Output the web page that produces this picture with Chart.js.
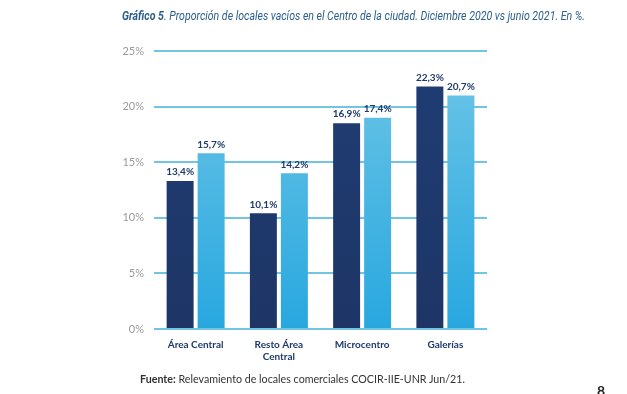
<!DOCTYPE html>
<html>
<head>
<meta charset="utf-8">
<script src="https://cdn.jsdelivr.net/npm/chart.js@4.4.0/dist/chart.umd.min.js"></script>
<style>
    html, body { margin: 0; padding: 0; background: #fff; }
    body { width: 627px; height: 394px; position: relative; overflow: hidden; font-family: Lato, "Noto Sans", sans-serif; }
    #wrap { position: absolute; left: 0; top: 0; width: 627px; height: 394px; }
    #titulo { position: absolute; left: 122px; top: 9px; white-space: nowrap; font-family: Roboto, sans-serif; font-style: italic; font-size: 12px; color: #2a5e8c; transform-origin: left top; }
    #titulo b { font-weight: 700; }
    #fuente { position: absolute; left: 140px; top: 372px; white-space: nowrap; font-size: 10.7px; color: #333; }
    #pagina { position: absolute; left: 597px; top: 382px; font-size: 14px; font-weight: 700; color: #222; }
</style>
</head>
<body>
<div id="wrap"><canvas id="grafico"></canvas></div>
<div id="titulo"><b>Gráfico 5</b>. Proporción de locales vacíos en el Centro de la ciudad. Diciembre 2020 vs junio 2021. En %.</div>
<div id="fuente"><b>Fuente:</b> Relevamiento de locales comerciales COCIR-IIE-UNR Jun/21.</div>
<div id="pagina">8</div>
<script>
// datos
const categorias = ['Área Central', ['Resto Área', 'Central'], 'Microcentro', 'Galerías'];
const dic2020 = [13.3, 10.4, 18.5, 21.8];
const jun2021 = [15.8, 14.0, 19.0, 21.0];
const etiquetasDic = ['13,4%', '10,1%', '16,9%', '22,3%'];
const etiquetasJun = ['15,7%', '14,2%', '17,4%', '20,7%'];
const ticksY = [0, 5, 10, 15, 20, 25];

// ajustar ancho del titulo
const titulo = document.getElementById('titulo');
const anchoTitulo = titulo.getBoundingClientRect().width;
titulo.style.transform = `scaleX(${463 / anchoTitulo})`;

function degradado(ctx, arriba, abajo) {
    const area = ctx.chart.chartArea;
    if (!area) return abajo;
    const g = ctx.chart.ctx.createLinearGradient(0, area.top, 0, area.bottom);
    g.addColorStop(0, arriba);
    g.addColorStop(1, abajo);
    return g;
}

const etiquetasPlugin = {
    id: 'etiquetas',
    afterDatasetsDraw(chart) {
        const ctx = chart.ctx;
        const textos = [etiquetasDic, etiquetasJun];
        ctx.save();
        ctx.font = 'bold 10px Lato, sans-serif';
        ctx.fillStyle = '#1f3a6c';
        ctx.textAlign = 'center';
        ctx.textBaseline = 'bottom';
        chart.data.datasets.forEach((ds, i) => {
            chart.getDatasetMeta(i).data.forEach((bar, j) => {
                ctx.fillText(textos[i][j], bar.x, bar.y - 4);
            });
        });
        ctx.restore();
    }
};

const ctx = document.getElementById('grafico').getContext('2d');
new Chart(ctx, {
    type: 'bar',
    data: {
        labels: categorias,
        datasets: [{
            label: 'Diciembre 2020',
            data: dic2020,
            backgroundColor: c => degradado(c, '#1f3d74', '#1e3566'),
            barPercentage: 0.87,
            categoryPercentage: 0.745
        }, {
            label: 'Junio 2021',
            data: jun2021,
            backgroundColor: c => degradado(c, '#6ec6e6', '#28a7df'),
            barPercentage: 0.87,
            categoryPercentage: 0.745
        }]
    },
    options: {
        responsive: true,
        maintainAspectRatio: false,
        animation: false,
        layout: { padding: { top: 51, right: 140, bottom: 0, left: 0 } },
        plugins: {
            legend: { display: false },
            tooltip: { enabled: false }
        },
        scales: {
            x: {
                grid: { display: false },
                border: { display: false },
                ticks: {
                    color: '#1f3a6c',
                    font: { family: 'Lato, sans-serif', size: 10, weight: 'bold' },
                    padding: 2,
                    maxRotation: 0
                },
                afterFit: s => { s.height = 65; }
            },
            y: {
                min: 0,
                max: 25,
                afterBuildTicks: s => { s.ticks = ticksY.map(v => ({ value: v })); },
                grid: { color: '#72c4e3', lineWidth: 2, drawTicks: false },
                border: { display: false },
                ticks: {
                    color: '#9a9a9a',
                    font: { family: 'Lato, sans-serif', size: 11 },
                    padding: 10,
                    callback: v => v + '%'
                },
                afterFit: s => { s.width = 154; }
            }
        }
    },
    plugins: [etiquetasPlugin]
});
</script>
</body>
</html>
